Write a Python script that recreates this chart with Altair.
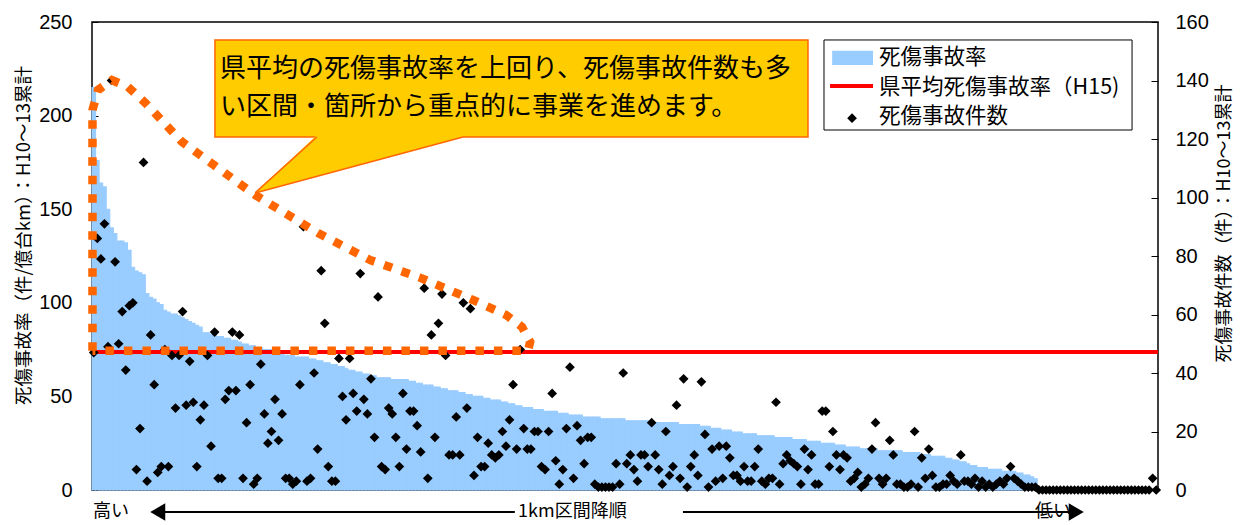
import altair as alt
import pandas as pd

# ---------------- data ----------------
N = 300  # number of 1km sections, sorted by rate (descending)

rates = [
    215, 176, 164, 162, 150, 140, 137, 133, 133, 132,
    128, 119, 117, 116, 115, 105, 103, 102, 100, 99,
    96, 95, 94, 94, 93, 92, 91, 90, 89, 88,
    87, 84, 84, 83, 83, 82, 82, 81, 81, 80,
    80, 79, 78, 78, 77, 77, 76, 76, 75, 75,
    75, 74, 74, 73, 72, 72, 72, 71, 71, 71,
    71, 70, 70, 69, 69, 68, 68, 67, 67, 66,
    66, 65, 64, 64, 63, 63, 62, 62, 61, 61,
    60, 60, 60, 60, 59, 59, 59, 59, 59, 58,
    58, 57, 57, 56, 56, 56, 55, 55, 54, 54,
    53, 53, 53, 52, 52, 51, 51, 50, 50, 50,
    49, 49, 48, 48, 48, 47, 47, 46, 46, 45,
    45, 44, 44, 44, 43, 43, 43, 42, 42, 42,
    42, 41, 41, 41, 40, 40, 40, 40, 39, 39,
    39, 39, 39, 38, 38, 38, 38, 38, 38, 38,
    37, 37, 37, 37, 37, 37, 37, 37, 36, 36,
    36, 36, 36, 36, 36, 35, 35, 35, 35, 35,
    35, 34, 34, 34, 33, 33, 33, 32, 32, 32,
    31, 31, 31, 30, 30, 30, 30, 29, 29, 29,
    29, 29, 28, 28, 28, 28, 28, 27, 27, 27,
    27, 26, 26, 26, 26, 25, 25, 25, 25, 24,
    24, 24, 23, 23, 23, 23, 22, 22, 22, 22,
    22, 21, 21, 21, 21, 21, 21, 21, 20, 20,
    20, 20, 20, 19, 19, 19, 18, 18, 18, 18,
    17, 17, 16, 16, 15, 15, 14, 13, 13, 12,
    12, 12, 11, 11, 11, 11, 10, 10, 10, 10,
    9, 9, 8, 8, 7, 6, 0, 0, 0, 0,
    0, 0, 0, 0, 0, 0, 0, 0, 0, 0,
    0, 0, 0, 0, 0, 0, 0, 0, 0, 0,
    0, 0, 0, 0, 0, 0, 0, 0, 0, 0,
]

counts = [
    47, 86, 79, 91, 49, 140, 78, 50, 61, 41,
    63, 64, 7, 21, 112, 3, 53, 36, 6, 8,
    48, 8, 46, 28, 46, 61, 29, 44, 30, 8,
    24, 29, 46, 15, 54, 4, 4, 31, 34, 54,
    34, 53, 4, 23, 36, 2, 4, 43, 26, 16,
    20, 31, 17, 26, 4, 4, 2, 3, 36, 90,
    3, 4, 40, 14, 75, 57, 8, 3, 3, 45,
    32, 24, 45, 33, 27, 74, 31, 26, 38, 18,
    66, 8, 7, 28, 26, 18, 8, 33, 14, 27,
    27, 22, 13, 69, 4, 53, 18, 57, 67, 46,
    12, 12, 25, 12, 64, 28, 62, 5, 18, 8,
    8, 16, 12, 11, 12, 20, 15, 24, 36, 14,
    48, 21, 14, 14, 20, 20, 8, 7, 20, 33,
    10, 2, 7, 21, 42, 4, 22, 17, 9, 18,
    18, 2, 1, 1, 1, 1, 1, 9, 2, 40,
    9, 12, 7, 3, 12, 12, 8, 23, 12, 7,
    2, 20, 5, 8, 29, 4, 38, 1, 8, 12,
    5, 37, 19, 1, 14, 3, 15, 4, 15, 11,
    5, 5, 3, 8, 3, 3, 8, 14, 3, 2,
    4, 4, 30, 2, 9, 12, 10, 9, 8, 2,
    14, 7, 12, 2, 2, 27, 27, 8, 20, 12,
    7, 12, 11, 3, 4, 6, 1, 2, 4, 14,
    23, 4, 2, 4, 17, 12, 2, 2, 1, 1,
    2, 20, 1, 11, 4, 14, 5, 1, 1, 2,
    2, 5, 3, 2, 12, 3, 3, 2, 4, 1,
    3, 1, 2, 1, 2, 3, 2, 4, 8, 4,
    3, 2, 1, 1, 1, 1, 0, 0, 0, 0,
    0, 0, 0, 0, 0, 0, 0, 0, 0, 0,
    0, 0, 0, 0, 0, 0, 0, 0, 0, 0,
    0, 0, 0, 0, 0, 0, 0, 0, 4, 0,
]

pref_avg_rate = 73.7

left_ticks = [0, 50, 100, 150, 200, 250]
right_ticks = [0, 20, 40, 60, 80, 100, 120, 140, 160]
left_title = "死傷事故率（件/億台km）：H10～13累計"
right_title = "死傷事故件数（件）：H10～13累計"
legend_labels = ["死傷事故率", "県平均死傷事故率（H15)", "死傷事故件数"]
callout_lines = ["県平均の死傷事故率を上回り、死傷事故件数も多",
                 "い区間・箇所から重点的に事業を進めます。"]
bottom_labels = ["高い", "1km区間降順", "低い"]

# ---------------- styles ----------------
BLUE = "#99CCFF"
RED = "#FF0000"
ORANGE = "#FF6600"
YELLOW = "#FFCC00"
JP = "Noto Sans CJK JP"
NUM = "Liberation Sans"

df = pd.DataFrame({"idx": list(range(N)), "rate": rates, "count": counts})
df["idx_end"] = df["idx"] + 1
df["idx_mid"] = df["idx"] + 0.5

xscale = alt.Scale(domain=[0, N], nice=False, zero=False)
yl_scale = alt.Scale(domain=[0, 250], nice=False)
yr_scale = alt.Scale(domain=[0, 160], nice=False)

left_axis = alt.Axis(
    orient="left", values=left_ticks, title=left_title, grid=False, domain=False,
    offset=-6, tickSize=6, tickColor="black", tickWidth=1,
    labelFont=NUM, labelFontSize=20, labelColor="black", labelPadding=20,
    titleFont=JP, titleFontSize=18.5, titleFontWeight="normal", titleColor="black",
    titlePadding=5, titleY=213, titleAlign="center",
)
right_axis = alt.Axis(
    orient="right", values=right_ticks, title=right_title, grid=False, domain=False,
    offset=-7, tickSize=7, tickColor="black", tickWidth=1,
    labelFont=NUM, labelFontSize=20, labelColor="black", labelPadding=17,
    titleFont=JP, titleFontSize=18, titleFontWeight="normal", titleColor="black",
    titlePadding=7, titleY=201, titleAngle=270, titleBaseline="top", titleAlign="center",
)


def XQ(field):
    return alt.X(field, type="quantitative", scale=xscale, axis=None)


def YL(field):
    return alt.Y(field, type="quantitative", scale=yl_scale, axis=left_axis)


def YA(field):
    return alt.Y(field, type="quantitative", scale=yl_scale, axis=None)


# ---------------- main layers ----------------
bars = alt.Chart(df).mark_rect(color=BLUE, stroke=BLUE, strokeWidth=1.1).encode(
    x=XQ("idx"), x2="idx_end", y=YL("rate"), y2=alt.datum(0)
)
avg_rule = alt.Chart(pd.DataFrame({"v": [pref_avg_rate]})).mark_rule(
    color=RED, strokeWidth=4
).encode(y=YL("v"))
left_base = alt.layer(bars, avg_rule)

points = alt.Chart(df).mark_point(
    shape="diamond", filled=True, color="black", size=95, opacity=1
).encode(
    x=XQ("idx_mid"),
    y=alt.Y("count", type="quantitative", scale=yr_scale, axis=right_axis),
)

# ---------------- annotations (in data units: section index / rate) ----------------
outline_x = [0.14, 0.14, 1.7, 5.6, 10.1, 14.9, 25.3, 45.9, 63.6, 78.2, 92.6,
             107.2, 116.5, 121.0, 123.3, 122.7, 0.14]
outline_y = [74.4, 203, 213.7, 219, 215.3, 207, 186, 157.6, 137.3, 122.9, 113.2,
             101.5, 93.5, 87.1, 79.1, 74.4, 74.4]
outline_df = pd.DataFrame({"k": list(range(len(outline_x))), "x": outline_x, "y": outline_y})
outline = alt.Chart(outline_df).mark_line(
    color=ORANGE, strokeWidth=8.5, strokeDash=[8.5, 10], strokeCap="butt"
).encode(x=XQ("x"), y=YA("y"), order="k:Q")

box_df = pd.DataFrame({"x": [34.6], "x2": [201.5], "y": [188.6], "y2": [240.4]})
callout_box = alt.Chart(box_df).mark_rect(fill=YELLOW, stroke=ORANGE, strokeWidth=1.5).encode(
    x=XQ("x"), x2="x2", y=YA("y"), y2="y2"
)
tail_df = pd.DataFrame({"x": [45.9, 63.3, 104.4], "y": [158.7, 189.6, 189.6],
                        "y2": [158.7, 167.6, 188.6]})
tail = alt.Chart(tail_df).mark_area(color=YELLOW, opacity=1, interpolate="linear").encode(
    x=XQ("x"), y=YA("y"), y2="y2"
)
edges_df = pd.DataFrame({"x": [45.9, 45.9], "x2": [63.3, 104.4],
                         "y": [158.7, 158.7], "y2": [188.6, 188.6]})
tail_edges = alt.Chart(edges_df).mark_rule(color=ORANGE, strokeWidth=1.5).encode(
    x=XQ("x"), x2="x2", y=YA("y"), y2="y2"
)
ctext_df = pd.DataFrame({"x": [36.0, 36.0], "y": [224.9, 204.6], "t": callout_lines})
callout_text = alt.Chart(ctext_df).mark_text(
    align="left", baseline="middle", font=JP, fontSize=26, color="black"
).encode(x=XQ("x"), y=YA("y"), text="t:N")

# legend
lbox_df = pd.DataFrame({"x": [206.0], "x2": [292.7], "y": [192.3], "y2": [240.4]})
legend_box = alt.Chart(lbox_df).mark_rect(fill="white", stroke="black", strokeWidth=1).encode(
    x=XQ("x"), x2="x2", y=YA("y"), y2="y2"
)
sw_df = pd.DataFrame({"x": [208.3], "x2": [219.8], "y": [227.0], "y2": [234.6]})
legend_swatch = alt.Chart(sw_df).mark_rect(fill=BLUE).encode(
    x=XQ("x"), x2="x2", y=YA("y"), y2="y2"
)
ll_df = pd.DataFrame({"x": [207.7], "x2": [219.8], "y": [215.8]})
legend_line = alt.Chart(ll_df).mark_rule(color=RED, strokeWidth=4).encode(
    x=XQ("x"), x2="x2", y=YA("y")
)
ld_df = pd.DataFrame({"x": [213.9], "y": [198.6]})
legend_diamond = alt.Chart(ld_df).mark_point(
    shape="diamond", filled=True, color="black", size=95, opacity=1
).encode(x=XQ("x"), y=YA("y"))
lt_df = pd.DataFrame({"x": [221.5, 221.5, 221.5], "y": [230.6, 214.7, 199.0], "t": legend_labels})
legend_text = alt.Chart(lt_df).mark_text(
    align="left", baseline="middle", font=JP, fontSize=21.5, color="black"
).encode(x=XQ("x"), y=YA("y"), text="t:N")

# bottom arrow
bt_df = pd.DataFrame({"x": [0.28, 119.9, 265.4], "y": [-11.75] * 3, "t": bottom_labels})
bottom_text = alt.Chart(bt_df).mark_text(
    align="left", baseline="middle", font=JP, fontSize=18, color="black"
).encode(x=XQ("x"), y=YA("y"), text="t:N")
seg_df = pd.DataFrame({"x": [19.5, 166.3], "x2": [119.0, 275.0], "y": [-11.75, -11.75]})
arrow_lines = alt.Chart(seg_df).mark_rule(color="black", strokeWidth=2).encode(
    x=XQ("x"), x2="x2", y=YA("y")
)
head_df = pd.DataFrame({"x": [18.5, 277.0], "y": [-11.75, -11.75],
                        "s": ["triangle-left", "triangle-right"]})
arrow_heads = alt.Chart(head_df).mark_point(filled=True, color="black", size=300, opacity=1).encode(
    x=XQ("x"), y=YA("y"),
    shape=alt.Shape("s:N", scale=alt.Scale(domain=["triangle-left", "triangle-right"],
                                           range=["triangle-left", "triangle-right"]),
                    legend=None),
)

annot = alt.layer(
    outline, callout_box, tail, tail_edges, callout_text,
    legend_box, legend_swatch, legend_line, legend_diamond, legend_text,
    arrow_lines, arrow_heads, bottom_text,
)

chart = alt.layer(left_base, points, annot).resolve_scale(y="independent").properties(
    width=1066, height=468,
    padding={"left": 84, "top": 14, "right": 81, "bottom": 35},
    autosize=alt.AutoSizeParams(type="none"),
).configure(font=JP).configure_view(stroke="black", strokeWidth=1.5)

chart.save("out.html", embed_options={"renderer": "svg", "actions": False})
